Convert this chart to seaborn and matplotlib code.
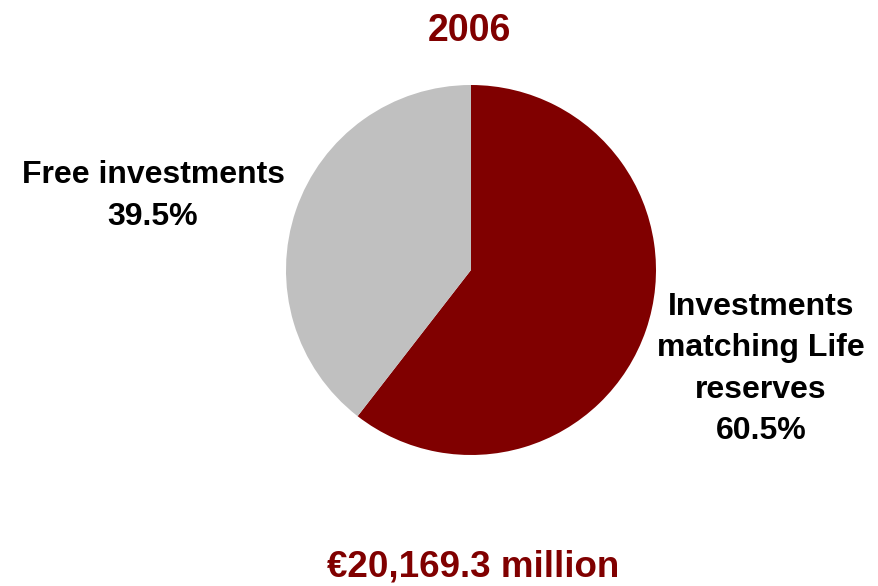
import matplotlib
matplotlib.use('Agg')
import matplotlib.pyplot as plt
import seaborn as sns

sns.set_style('white')
plt.rcParams['font.family'] = ['Liberation Sans', 'DejaVu Sans']

# data
segments = ['Investments\nmatching Life\nreserves', 'Free investments']
shares = [60.5, 39.5]
seg_colors = ['#800000', '#C0C0C0']
year = '2006'
total = '€20,169.3 million'

fig = plt.figure(figsize=(8.79, 5.86), dpi=100)
# pie centre ~ (471, 270) px, radius ~185 px
ax = fig.add_axes([(471 - 185) / 879, (586 - 455) / 586, 370 / 879, 370 / 586])
ax.pie(shares, colors=seg_colors, startangle=90, counterclock=False,
       radius=1.0, wedgeprops=dict(linewidth=0))
ax.set_xlim(-1, 1)
ax.set_ylim(-1, 1)
ax.set_aspect('equal')
ax.axis('off')

def px(x, y):
    return x / 879, 1 - y / 586

fig.text(*px(469, 31), year, ha='center', va='center', fontsize=27,
         fontweight='bold', color='#800000')
fig.text(*px(473, 567), total, ha='center', va='center', fontsize=26.5,
         fontweight='bold', color='#800000')

fig.text(*px(153, 196), '%s\n%.1f%%' % (segments[1], shares[1]), ha='center',
         va='center', fontsize=23, fontweight='bold', color='black',
         linespacing=1.5)
fig.text(*px(761, 369), '%s\n%.1f%%' % (segments[0], shares[0]), ha='center',
         va='center', fontsize=23, fontweight='bold', color='black',
         linespacing=1.5)

plt.savefig('out.png', dpi=100)
